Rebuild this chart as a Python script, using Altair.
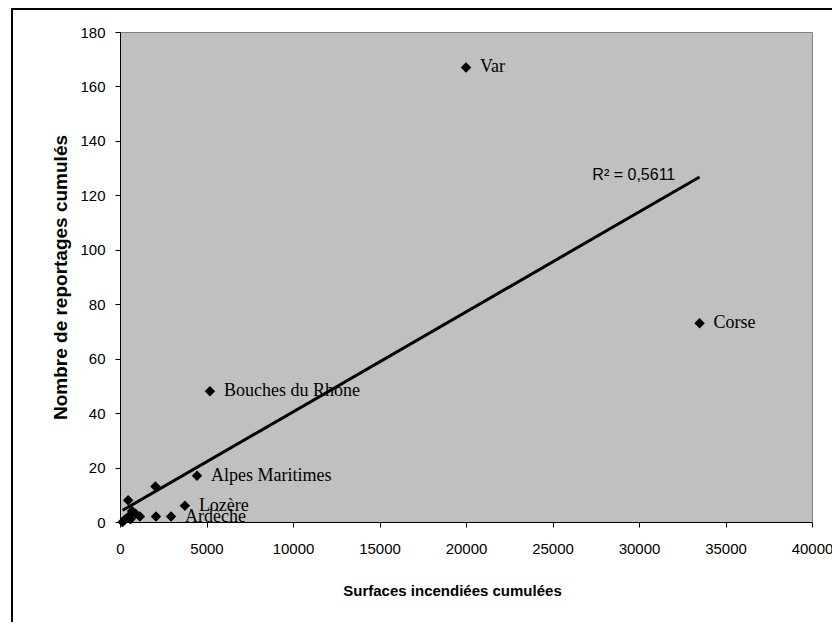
import altair as alt
import pandas as pd

# Data
surfaces = [20000, 33500, 5200, 4450, 3750, 2950, 2050, 470, 2080, 1150, 900, 700, 500, 300, 150, 600]
reportages = [167, 73, 48, 17, 6, 2, 13, 8, 2, 2, 3, 4, 2, 1, 0, 1]
noms = ["Var", "Corse", "Bouches du Rhone", "Alpes Maritimes", "Lozère", "Ardèche",
        "", "", "", "", "", "", "", "", "", ""]
r2_label = ["R² = 0,5611"]
r2_pos_x = [29700]
r2_pos_y = [127.5]

df = pd.DataFrame({"x": surfaces, "y": reportages, "nom": noms})
df_lab = df[df["nom"] != ""]
df_r2 = pd.DataFrame({"t": r2_label, "x": r2_pos_x, "y": r2_pos_y})

xs = alt.Scale(domain=[0, 40000], nice=False, zero=True)
ys = alt.Scale(domain=[0, 180], nice=False, zero=True)

xax = alt.Axis(values=list(range(0, 40001, 5000)), format="d", title="Surfaces incendiées cumulées",
               grid=False, tickSize=5, labelPadding=14, labelFontSize=15,
               titleFontSize=15, titleFontWeight="bold", titleX=332, titleY=68,
               titleBaseline="middle", labelFlush=False)
yax = alt.Axis(values=list(range(0, 181, 20)), format="d", title="Nombre de reportages cumulés",
               grid=False, tickSize=5, labelPadding=10, labelFontSize=15,
               titleFontSize=19, titleFontWeight="bold", titleX=-60, titleY=245,
               titleAngle=-90, titleBaseline="middle", titleAlign="center")

base = alt.Chart(df)

points = base.mark_point(shape="diamond", filled=True, color="black", size=110, opacity=1).encode(
    x=alt.X("x:Q", scale=xs, axis=xax),
    y=alt.Y("y:Q", scale=ys, axis=yax),
)

trend = base.transform_regression("x", "y").mark_line(color="black", strokeWidth=3).encode(
    x=alt.X("x:Q", scale=xs), y=alt.Y("y:Q", scale=ys)
)

labels = alt.Chart(df_lab).mark_text(align="left", baseline="middle", dx=14,
                                     font="Liberation Serif", fontSize=18, color="black").encode(
    x=alt.X("x:Q", scale=xs), y=alt.Y("y:Q", scale=ys), text="nom:N"
)

r2 = alt.Chart(df_r2).mark_text(align="center", baseline="middle", font="Liberation Sans",
                                fontSize=16, color="black").encode(
    x=alt.X("x:Q", scale=xs), y=alt.Y("y:Q", scale=ys), text="t:N"
)

frame = alt.Chart(pd.DataFrame({"a": [0]})).mark_rect(
    filled=False, stroke="black", strokeWidth=2, fill=None
).encode(x=alt.value(-108), x2=alt.value(740), y=alt.value(-23), y2=alt.value(620))

chart = alt.layer(frame, trend, points, labels, r2).properties(
    width=692, height=490,
    autosize=alt.AutoSizeParams(type="none"),
    padding={"left": 112, "top": 24, "right": 20, "bottom": 100},
    background="white",
).configure_view(
    fill="#C0C0C0", stroke="#808080", strokeWidth=1
).configure_axis(
    domainColor="black", tickColor="black", labelColor="black", titleColor="black",
    labelFont="Liberation Sans", titleFont="Liberation Sans", domainWidth=1
)

chart.save("out.html", embed_options={"renderer": "svg", "actions": False})
